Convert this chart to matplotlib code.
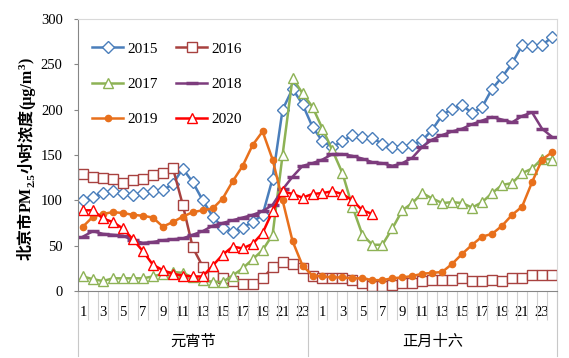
import numpy as np
import matplotlib
matplotlib.use('Agg')
import matplotlib.pyplot as plt

plt.rcParams['font.family'] = ['Liberation Serif', 'Noto Sans CJK SC', 'DejaVu Sans']

# category axis: hours of the two days
hours_day1 = list(range(1, 24))
hours_day2 = list(range(0, 25))
groups = ['元宵节', '正月十六']

# PM2.5 hourly concentration (ug/m3)
pm2015 = [100, 104, 108, 110, 108, 106, 108, 110, 111, 118, 135, 120, 100, 82, 70, 65,
          70, 76, 84, 124, 200, 223, 206, 181, 165, 159, 165, 172, 170, 169, 162, 159,
          159, 161, 166, 178, 194, 201, 205, 196, 203, 223, 236, 251, 271, 270, 271, 280]
pm2016 = [129, 126, 125, 123, 119, 122, 124, 128, 130, 136, 95, 48, 27, 17, 14, 11,
          8, 8, 14, 26, 32, 30, 25, 16, 14, 14, 14, 12, 9, 5, 5, 7,
          9, 9, 10.5, 12, 12, 12, 14, 10.5, 10.5, 12, 10.5, 14, 14, 17.5, 17.5, 17.5]
pm2017 = [16, 13, 11, 14, 14, 14, 14, 16, 19, 21, 20, 15, 12, 10, 10, 17,
          25, 35, 45, 62, 150, 235, 218, 203, 179, 155, 130, 93, 62, 51, 51, 69,
          89, 97, 108, 102, 97, 98, 97, 92, 98, 108, 117, 119, 130, 135, 146, 145]
pm2018 = [60, 66, 63, 62, 61, 56, 53, 54, 56, 57, 58, 62, 66, 72, 75, 78,
          81, 84, 88, 95, 112, 126, 138, 141, 145, 151, 151, 149, 146, 142, 141, 138,
          141, 147, 159, 167, 172, 176, 179, 184, 188, 192, 189, 186, 193, 197, 179, 170]
pm2019 = [71, 82, 85, 87, 86, 84, 83, 81, 71, 76, 82, 87, 89, 91, 102, 121,
          138, 161, 176, 145, 100, 55, 28, 17, 16, 15, 15, 14, 14, 12, 12, 14,
          15, 16.5, 19, 20, 21, 30, 41, 51, 60, 63, 72, 84, 93, 120, 145, 153]
pm2020 = [89, 89, 80, 76, 69, 57, 44, 29, 23, 19, 17, 16, 16, 28, 40, 49,
          47, 52, 64, 88, 110, 107, 103, 107, 108, 110, 107, 100, 89, 85]

n = len(hours_day1) + len(hours_day2)
x = np.arange(n)

def pad(vals):
    out = np.full(n, np.nan)
    out[:len(vals)] = vals
    return out

fig = plt.figure(figsize=(5.69, 3.58), dpi=100)
ax = fig.add_axes([78 / 569, 1 - 291 / 358, 479 / 569, 272 / 358])

lw = 1.8
h15, = ax.plot(x, pm2015, color='#4A7EBB', lw=lw, marker='D', ms=6.5, mfc='white', mec='#4A7EBB', mew=1, label='2015')
h16, = ax.plot(x, pm2016, color='#A8413F', lw=lw, marker='s', ms=7, mfc='white', mec='#A8413F', mew=1, label='2016')
h17, = ax.plot(x, pm2017, color='#8DB255', lw=lw, marker='^', ms=7.5, mfc='white', mec='#8DB255', mew=1, label='2017')
h18, = ax.plot(x, pm2018, color='#7D3C7D', lw=lw, marker='_', ms=8, mec='#7D3C7D', mew=2.5, label='2018')
h19, = ax.plot(x, pm2019, color='#E8701C', lw=lw, marker='o', ms=4.5, mfc='#E8701C', mec='#E8701C', label='2019')
h20, = ax.plot(x, pad(pm2020), color='#FF0000', lw=lw, marker='^', ms=7.5, mfc='white', mec='#FF0000', mew=1, label='2020')

ax.set_xlim(-0.5, n - 0.5)
ax.set_ylim(0, 300)
ax.set_yticks(np.arange(0, 301, 50))
ax.tick_params(axis='y', labelsize=10.5, length=3, color='#868686', pad=8)

labels = [str(h) for h in hours_day1 + hours_day2]
ax.set_xticks(x[::2])
ax.set_xticklabels(labels[::2], fontsize=10.5)
ax.set_xticks(np.arange(-0.5, n, 1), minor=True)
ax.tick_params(axis='x', which='major', length=0, pad=11)
ax.tick_params(axis='x', which='minor', length=21, color='#D0D0D0', width=0.8)

for s in ['left', 'bottom']:
    ax.spines[s].set_color('#868686')
for s in ['top', 'right']:
    ax.spines[s].set_color('#D9D9D9')

# group separators and labels below the hour labels
trans = ax.get_xaxis_transform()
bounds = [-0.5, len(hours_day1) - 0.5, n - 0.5]
for b in bounds:
    ax.plot([b, b], [0, -0.24], transform=trans, color='#C8C8C8', lw=0.8, clip_on=False)
centers = [(len(hours_day1) - 1) / 2, len(hours_day1) + (len(hours_day2) - 1) / 2]
for c, g in zip(centers, groups):
    ax.text(c, -0.185, g, transform=trans, ha='center', va='center', fontsize=11,
            family=['Noto Sans CJK SC'])

# y label built from pieces so the CJK text, subscript and superscript all render
pieces = [('北京市', 11.5, 0), ('PM', 11.5, 0), ('2.5', 8, 3.5), ('小时浓度', 11.5, 0),
          ('(μg/m', 11.5, 0), ('3', 8, -5), (')', 11.5, 0)]
base_x = 31
texts = []
for s, size, dx in pieces:
    t = fig.text(0, 0, s, rotation=90, rotation_mode='anchor', ha='left', va='baseline',
                 fontsize=size, fontweight='bold')
    texts.append((t, dx))
fig.canvas.draw()
r = fig.canvas.get_renderer()
lengths = [t.get_window_extent(r).height for t, _ in texts]
total = sum(lengths)
y = (358 - 159) - total / 2
for (t, dx), L in zip(texts, lengths):
    t.set_position(((base_x + dx) / 569, y / 358))
    y += L

ax.legend([h15, h17, h19, h16, h18, h20], ['2015', '2017', '2019', '2016', '2018', '2020'],
          ncol=2, loc='upper left', bbox_to_anchor=(0.03, 0.915), frameon=False,
          fontsize=11, borderpad=0, borderaxespad=0, handlelength=2.0,
          labelspacing=1.4, columnspacing=1.2, handletextpad=0.3)

fig.savefig('out.png', dpi=100)
